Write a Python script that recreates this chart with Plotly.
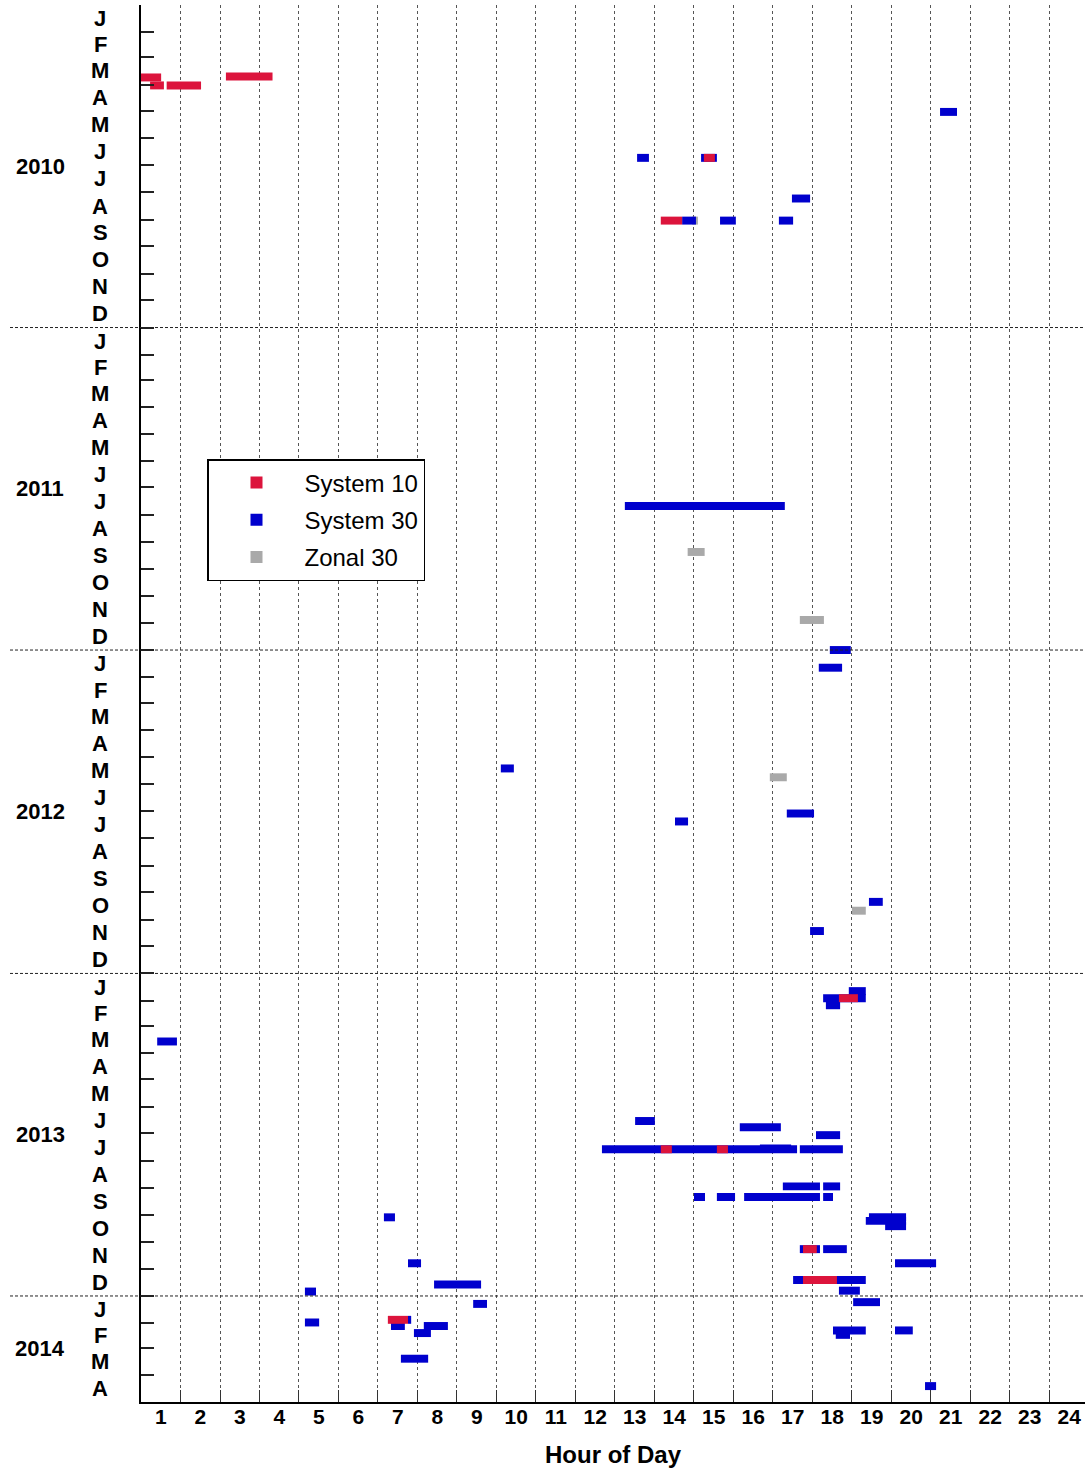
import plotly.graph_objects as go
from datetime import datetime

# ---------------- data ----------------
# System 10 (red)
sys10_dates = ["2010-03-24", "2010-04-02", "2010-04-02", "2010-03-23", "2010-06-23", "2010-09-02",
               "2013-01-29", "2013-07-19", "2013-07-19", "2013-11-09", "2013-12-14", "2014-01-28"]
sys10_start = [0.0, 0.23, 0.65, 2.15, 14.25, 13.16, 17.67, 13.16, 14.58, 16.76, 16.76, 6.25]
sys10_end = [0.51, 0.58, 1.52, 3.33, 14.53, 13.70, 18.15, 13.44, 14.86, 17.11, 17.62, 6.76]

# System 30 (blue)
sys30_dates = ["2010-05-02", "2010-06-23", "2010-06-23", "2010-08-08", "2010-09-02", "2010-09-02",
               "2010-09-02", "2011-07-22", "2012-01-01", "2012-01-21", "2012-05-14", "2012-07-04",
               "2012-07-13", "2012-10-12", "2012-11-14", "2013-01-21", "2013-01-29", "2013-02-06",
               "2013-03-19", "2013-06-17", "2013-06-24", "2013-07-03", "2013-07-19", "2013-07-18",
               "2013-07-19", "2013-08-30", "2013-08-30", "2013-09-11", "2013-09-11", "2013-09-11",
               "2013-09-11", "2013-10-04", "2013-10-04", "2013-10-08", "2013-10-14", "2013-11-09",
               "2013-11-09", "2013-11-25", "2013-11-25", "2013-12-14", "2013-12-19", "2013-12-26",
               "2013-12-27", "2014-01-08", "2014-01-10", "2014-01-28", "2014-01-31", "2014-02-04",
               "2014-02-04", "2014-02-12", "2014-02-09", "2014-02-14", "2014-02-09", "2014-03-13",
               "2014-04-13"]
sys30_start = [20.23, 12.56, 14.18, 16.48, 13.70, 14.66,
               16.15, 12.25, 17.44, 17.16, 9.11, 16.35,
               13.52, 18.43, 16.94, 17.92, 17.27, 17.34,
               0.41, 12.51, 15.16, 17.09, 11.67, 15.67,
               16.68, 16.25, 17.27, 14.00, 14.58, 15.27,
               17.27, 6.15, 18.43, 18.35, 18.84, 16.68,
               17.27, 6.76, 19.09, 16.51, 7.42, 17.67,
               4.15, 18.03, 8.41, 6.76, 4.15, 6.33,
               7.16, 6.91, 17.52, 17.59, 19.09, 6.58,
               19.85]
sys30_end = [20.66, 12.86, 14.58, 16.94, 14.05, 15.06,
             16.51, 16.30, 17.97, 17.75, 9.44, 17.04,
             13.85, 18.78, 17.29, 18.35, 18.35, 17.70,
             0.91, 13.01, 16.20, 17.70, 16.61, 16.46,
             17.77, 17.19, 17.70, 14.28, 15.04, 17.19,
             17.52, 6.43, 19.37, 19.37, 19.37, 17.19,
             17.87, 7.09, 20.13, 18.35, 8.61, 18.20,
             4.43, 18.71, 8.76, 6.84, 4.51, 6.68,
             7.77, 7.34, 18.35, 17.95, 19.54, 7.27,
             20.13]

# Zonal 30 (gray)
zonal30_dates = ["2010-09-02", "2011-09-12", "2011-11-28", "2012-05-24", "2012-10-22"]
zonal30_start = [13.95, 13.84, 16.68, 15.92, 18.00]
zonal30_end = [14.10, 14.27, 17.29, 16.35, 18.35]

month_letters = ["J", "F", "M", "A", "M", "J", "J", "A", "S", "O", "N", "D"]
years = [2010, 2011, 2012, 2013, 2014]
months_per_year = [12, 12, 12, 12, 4]
hour_labels = [str(h) for h in range(1, 25)]

# ---------------- figure ----------------
FONT = "Liberation Sans, Arial, sans-serif"
BAR_W = 9 * 86400000  # bar thickness in ms on the date axis

fig = go.Figure()


def add_series(name, dates, starts, ends, color, rank):
    fig.add_trace(go.Bar(
        name=name, orientation="h", y=dates,
        x=[e - s for s, e in zip(starts, ends)], base=starts,
        width=BAR_W, marker=dict(color=color, line=dict(width=0)),
        legendrank=rank, legendgroup=name,
    ))


add_series("Zonal 30", zonal30_dates, zonal30_start, zonal30_end, "#A9A9A9", 3)
add_series("System 30", sys30_dates, sys30_start, sys30_end, "#0000CD", 2)
add_series("System 10", sys10_dates, sys10_start, sys10_end, "#DC143C", 1)

# month boundaries
month_starts = []
for yr, n in zip(years, months_per_year):
    for m in range(1, n + 1):
        month_starts.append(datetime(yr, m, 1))
month_starts.append(datetime(2014, 5, 1))

annotations = []
LBL_X = (100 - 141) / 944
YEAR_X = (40 - 141) / 944
idx = 0
for yr, n in zip(years, months_per_year):
    for m in range(n):
        a, b = month_starts[idx], month_starts[idx + 1]
        mid = a + (b - a) / 2
        annotations.append(dict(
            x=LBL_X, xref="paper", y=mid.strftime("%Y-%m-%d %H:%M"), yref="y",
            text=month_letters[m], showarrow=False, xanchor="center", yanchor="middle",
            font=dict(family=FONT, size=22, color="black", weight="bold")))
        idx += 1
    start = datetime(yr, 1, 1)
    end = datetime(yr + 1, 1, 1) if n == 12 else datetime(yr, n + 1, 1)
    mid = start + (end - start) / 2
    annotations.append(dict(
        x=YEAR_X, xref="paper", y=mid.strftime("%Y-%m-%d %H:%M"), yref="y",
        text=str(yr), showarrow=False, xanchor="center", yanchor="middle",
        font=dict(family=FONT, size=22, color="black", weight="bold")))

shapes = []
for yr in years[1:]:
    shapes.append(dict(type="line", xref="paper", yref="y",
                       x0=(10 - 141) / 944, x1=1, y0=f"{yr}-01-01", y1=f"{yr}-01-01",
                       line=dict(color="#222222", width=1, dash="3px,2px"), layer="above"))

fig.update_layout(
    width=1085, height=1472,
    margin=dict(l=141, r=0, t=5, b=70),
    paper_bgcolor="white", plot_bgcolor="white",
    barmode="overlay",
    font=dict(family=FONT, color="black"),
    showlegend=True,
    legend=dict(
        x=(207 - 141) / 944, y=1 - (459 - 5) / 1397, xanchor="left", yanchor="top",
        bgcolor="white", bordercolor="black", borderwidth=1.5,
        font=dict(family=FONT, size=24, color="black"),
        itemwidth=86, tracegroupgap=3, traceorder="grouped",
    ),
    annotations=annotations,
    shapes=shapes,
)

fig.update_xaxes(
    range=[0, 23.9],
    tickmode="array", tickvals=[h - 0.5 for h in range(1, 25)], ticktext=hour_labels,
    ticks="", showgrid=False, zeroline=False,
    showline=True, linecolor="black", linewidth=1.5,
    ticklabelstandoff=-5,
    tickfont=dict(family=FONT, size=21, color="black", weight="bold"),
    minor=dict(tickmode="array", tickvals=list(range(1, 24)), ticks="inside", ticklen=12,
               tickcolor="#333333", showgrid=True, gridcolor="#555555", griddash="dot", gridwidth=1),
    title=dict(text="Hour of Day", font=dict(family=FONT, size=24, color="black", weight="bold"),
               standoff=19),
)

fig.update_yaxes(
    type="date", range=["2014-05-01", "2010-01-01"],
    tickmode="array", tickvals=[d.strftime("%Y-%m-%d") for d in month_starts],
    ticks="inside", ticklen=13, tickcolor="#222222", tickwidth=1.5,
    showticklabels=False, showgrid=False, zeroline=False,
    showline=True, linecolor="black", linewidth=1.5,
)

fig.write_html("out.html")
